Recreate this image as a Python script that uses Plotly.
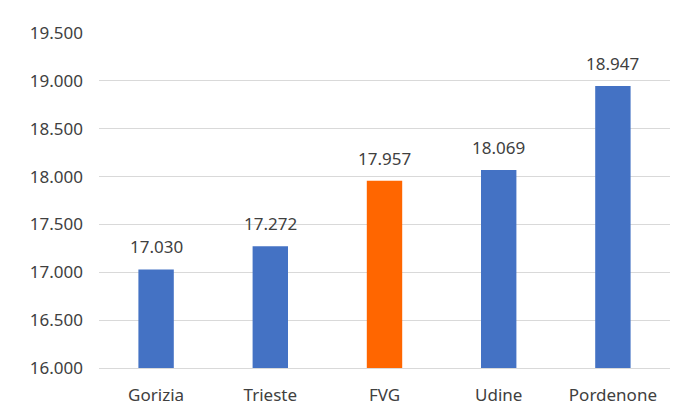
import plotly.graph_objects as go

areas = ["Gorizia", "Trieste", "FVG", "Udine", "Pordenone"]
values = [17030, 17272, 17957, 18069, 18947]
bar_colors = ["#4472C4", "#4472C4", "#FF6600", "#4472C4", "#4472C4"]
y_ticks = [16000, 16500, 17000, 17500, 18000, 18500, 19000, 19500]

fig = go.Figure(
    go.Bar(
        x=areas,
        y=values,
        marker={"color": bar_colors, "line": {"width": 0}},
        hoverinfo="x+y",
    )
)

# value labels above each bar, a bit higher than plotly's default outside text
for area, value in zip(areas, values):
    fig.add_annotation(
        x=area,
        y=value,
        text=f"{value:,d}".replace(",", "."),
        showarrow=False,
        yanchor="bottom",
        yshift=9,
        font={"size": 17, "color": "#404040"},
    )

fig.update_layout(
    width=679,
    height=411,
    margin={"l": 91, "r": 17, "t": 25, "b": 51},
    paper_bgcolor="white",
    plot_bgcolor="white",
    separators=",.",
    bargap=0.69,
    showlegend=False,
    font={"family": "Noto Sans, Open Sans, sans-serif", "size": 17, "color": "#404040"},
)
fig.update_yaxes(
    range=[16000, 19500],
    tickvals=y_ticks,
    tickformat=",d",
    showgrid=True,
    gridcolor="#D9D9D9",
    gridwidth=1,
    zeroline=False,
    showline=False,
    ticklabelstandoff=15,
    tickfont={"size": 17, "color": "#404040"},
)
fig.update_xaxes(
    showline=True,
    linecolor="#D9D9D9",
    ticks="",
    ticklabelstandoff=12,
    tickfont={"size": 17, "color": "#404040"},
)
fig.write_html("out.html")
